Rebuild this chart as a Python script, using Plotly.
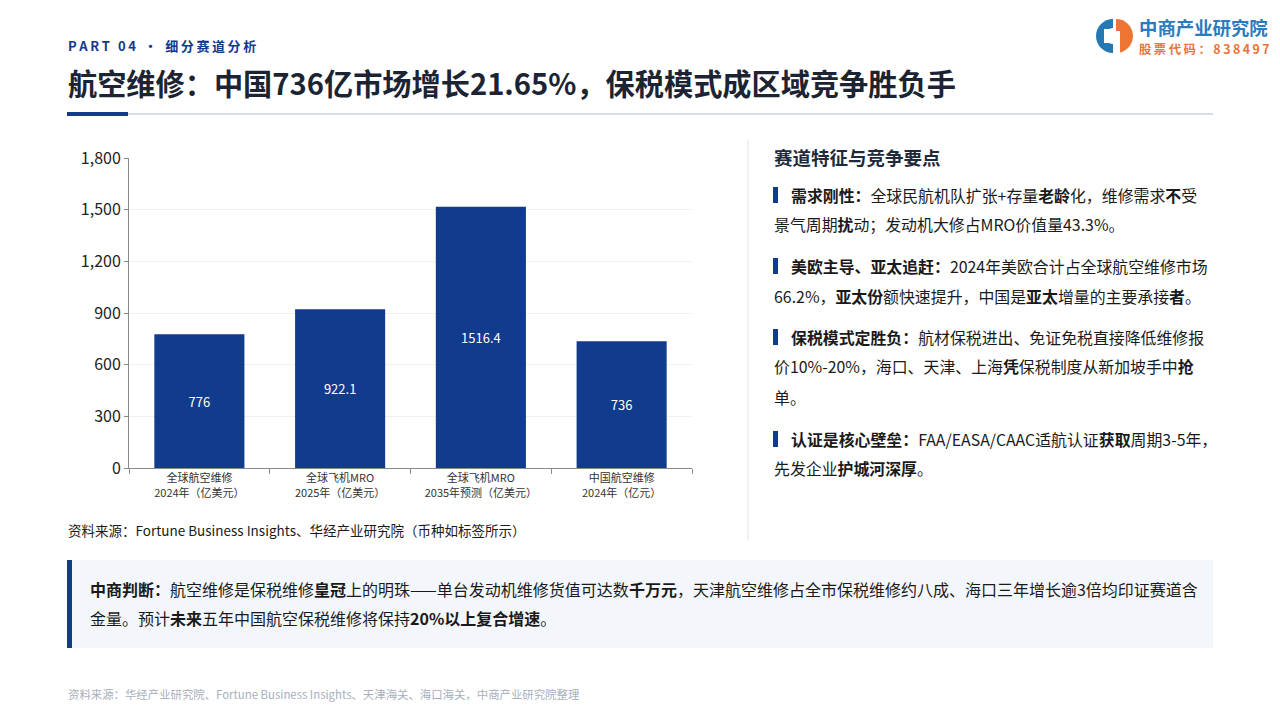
import plotly.graph_objects as go

# the page body keeps an 8px margin, so the figure is drawn 16px smaller
PAGE_W, PAGE_H = 1280, 720
OFF = 8
W, H = PAGE_W - 2 * OFF, PAGE_H - 2 * OFF
FONT = "Noto Sans CJK SC"
BLUE = "#113b8c"
DARK = "#1c2433"

# chart data
categories = [
    "全球航空维修<br>2024年（亿美元）",
    "全球飞机MRO<br>2025年（亿美元）",
    "全球飞机MRO<br>2035年预测（亿美元）",
    "中国航空维修<br>2024年（亿元）",
]
values = [776, 922.1, 1516.4, 736]
value_labels = ["776", "922.1", "1516.4", "736"]
y_ticks = [0, 300, 600, 900, 1200, 1500, 1800]

# right panel text, (first line, continuation lines...)
points = [
    [
        "<b>需求刚性：</b>全球民航机队扩张+存量<b>老龄</b>化，维修需求<b>不</b>受",
        "景气周期<b>扰</b>动；发动机大修占MRO价值量43.3%。",
    ],
    [
        "<b>美欧主导、亚太追赶：</b>2024年美欧合计占全球航空维修市场",
        "66.2%，<b>亚太份</b>额快速提升，中国是<b>亚太</b>增量的主要承接<b>者</b>。",
    ],
    [
        "<b>保税模式定胜负：</b>航材保税进出、免证免税直接降低维修报",
        "价10%-20%，海口、天津、上海<b>凭</b>保税制度从新加坡手中<b>抢</b>",
        "单。",
    ],
    [
        "<b>认证是核心壁垒：</b>FAA/EASA/CAAC适航认证<b>获取</b>周期3-5年，",
        "先发企业<b>护城河深厚</b>。",
    ],
]
point_y = [[195, 224], [266, 296], [337, 367, 397], [439, 468]]

judge_lines = [
    "<b>中商判断：</b>航空维修是保税维修<b>皇冠</b>上的明珠——单台发动机维修货值可达数<b>千万元</b>，天津航空维修占全市保税维修约八成、海口三年增长逾3倍均印证赛道含",
    "金量。预计<b>未来</b>五年中国航空保税维修将保持<b>20%以上复合增速</b>。",
]


def px(x):
    return (x - OFF) / W


def py(y):
    return 1 - (y - OFF) / H


def spaced(s, sep="\u2009"):
    return sep.join(s)


fig = go.Figure()
fig.add_trace(
    go.Bar(
        x=categories,
        y=values,
        text=value_labels,
        textposition="inside",
        insidetextanchor="middle",
        textfont=dict(color="white", size=13, family=FONT),
        marker=dict(color=BLUE, line=dict(width=0)),
        hoverinfo="skip",
    )
)

annotations = []


def note(x, y, text, size, color=DARK, anchor="left"):
    annotations.append(
        dict(
            x=px(x), y=py(y), xref="paper", yref="paper",
            xanchor=anchor, yanchor="middle", showarrow=False,
            text=text, font=dict(family=FONT, size=size, color=color),
        )
    )


# header
note(66, 45, "<b>" + spaced("PART 04 · 细分赛道分析") + "</b>", 13, "#123a8a")
note(66, 82, "<b>航空维修：中国736亿市场增长21.65%，保税模式成区域竞争胜负手</b>", 29.2, DARK)
note(1137, 27, "<b>中商产业研究院</b>", 18.4, "#2b7bbd")
note(1137, 49, "<b>" + spaced("股票代码：838497") + "</b>", 12.4, "#ec7436")

# right panel
note(772, 157, "<b>赛道特征与竞争要点</b>", 18.5, "#1f2a3a")
for lines, ys in zip(points, point_y):
    for i, (t, y) in enumerate(zip(lines, ys)):
        note(789 if i == 0 else 772, y, t, 15.9, "#1a1a1a")

# sources
note(66, 530, "资料来源：Fortune Business Insights、华经产业研究院（币种如标签所示）", 13.5, "#1a1a1a")
note(88, 589, judge_lines[0], 16, "#1a1a1a")
note(88, 618, judge_lines[1], 16, "#1a1a1a")
note(66, 694, "资料来源：华经产业研究院、Fortune Business Insights、天津海关、海口海关，中商产业研究院整理", 11.4, "#a7afbd")

shapes = []


def rect(x0, y0, x1, y1, color):
    shapes.append(
        dict(type="rect", xref="paper", yref="paper",
             x0=px(x0), x1=px(x1), y0=py(y1), y1=py(y0),
             fillcolor=color, line=dict(width=0), layer="below")
    )


def half_disc(cx, cy, r, side, color):
    k = 0.5523 * r
    s = -1 if side == "left" else 1
    pts = [
        (cx, cy - r),
        (cx + s * k, cy - r), (cx + s * r, cy - k), (cx + s * r, cy),
        (cx + s * r, cy + k), (cx + s * k, cy + r), (cx, cy + r),
    ]
    p = [f"{px(x):.5f},{py(y):.5f}" for x, y in pts]
    path = f"M {p[0]} C {p[1]} {p[2]} {p[3]} C {p[4]} {p[5]} {p[6]} Z"
    shapes.append(dict(type="path", xref="paper", yref="paper", path=path,
                       fillcolor=color, line=dict(width=0)))


# title rule
rect(128, 113, 1213, 115, "#d9dde6")
rect(67, 112, 128, 116, BLUE)

# logo mark
half_disc(1113, 36, 17, "left", "#2479b4")
half_disc(1113, 36, 8, "left", "white")
shapes.append(dict(type="rect", xref="paper", yref="paper",
                   x0=px(1104), x1=px(1113), y0=py(43), y1=py(29),
                   fillcolor="white", line=dict(width=0)))
half_disc(1116, 36, 17, "right", "#ee7433")
shapes.append(dict(type="rect", xref="paper", yref="paper",
                   x0=px(1116), x1=px(1120), y0=py(53), y1=py(31),
                   fillcolor="white", line=dict(width=0)))

# divider
shapes.append(dict(type="line", xref="paper", yref="paper",
                   x0=px(748), x1=px(748), y0=py(140), y1=py(540),
                   line=dict(color="#e2e5eb", width=1)))

# bullet markers
for ys in point_y:
    rect(773, ys[0] - 8, 778, ys[0] + 8, BLUE)

# judgement box
rect(67, 560, 1213, 648, "#f3f6fb")
rect(67, 560, 72, 648, BLUE)

fig.update_layout(
    width=W,
    height=H,
    margin=dict(l=0, r=0, t=0, b=0, autoexpand=False),
    paper_bgcolor="white",
    plot_bgcolor="white",
    showlegend=False,
    bargap=0.36,
    font=dict(family=FONT, color="#222"),
    annotations=annotations,
    shapes=shapes,
    xaxis=dict(
        domain=[px(129), px(692)],
        automargin=False,
        showline=True, linecolor="#8a8a8a", linewidth=1,
        ticks="outside", tickson="boundaries", ticklen=5, tickcolor="#8a8a8a",
        tickfont=dict(size=11, color="#333", family=FONT),
        showgrid=False,
    ),
    yaxis=dict(
        domain=[py(468), py(158)],
        automargin=False,
        range=[0, 1800],
        tickvals=y_ticks,
        tickformat=",",
        showline=True, linecolor="#8a8a8a", linewidth=1,
        ticks="outside", ticklen=4, tickcolor="#8a8a8a",
        tickfont=dict(size=16, color="#222", family=FONT),
        gridcolor="#eef0f4", zeroline=False,
    ),
)

fig.write_html("out.html")
